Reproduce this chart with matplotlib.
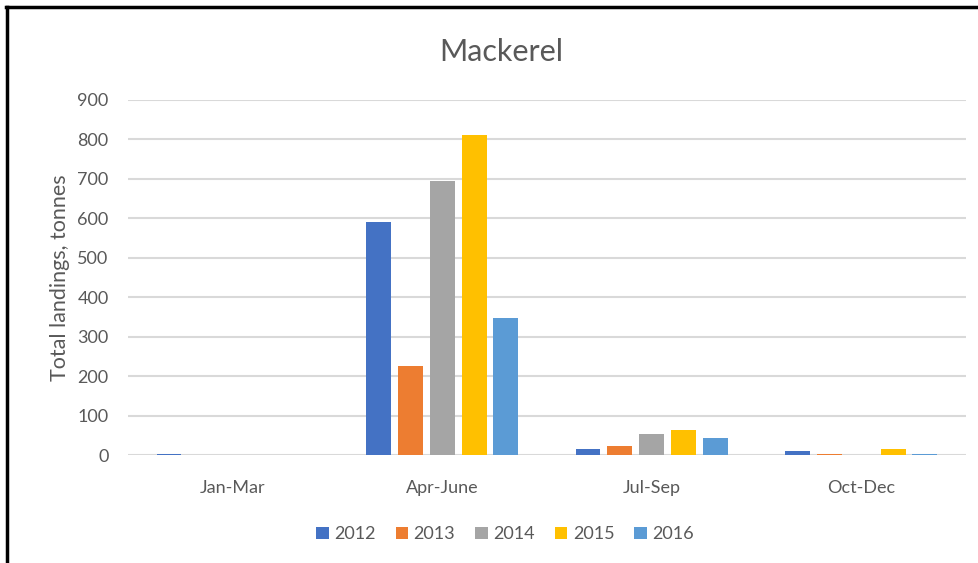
import matplotlib
matplotlib.use("Agg")
import matplotlib.pyplot as plt
from matplotlib.lines import Line2D
import numpy as np

plt.rcParams['font.family'] = ['Lato', 'DejaVu Sans']

quarters = ["Jan-Mar", "Apr-June", "Jul-Sep", "Oct-Dec"]
years = ["2012", "2013", "2014", "2015", "2016"]
landings_2012 = [2, 591, 15, 9]
landings_2013 = [0, 226, 22, 2]
landings_2014 = [0, 695, 53, 1]
landings_2015 = [0, 810, 63, 15]
landings_2016 = [0, 348, 43, 2]
series = [landings_2012, landings_2013, landings_2014, landings_2015, landings_2016]
colors = ["#4472C4", "#ED7D31", "#A5A5A5", "#FFC000", "#5B9BD5"]

fig = plt.figure(figsize=(9.79, 5.63), dpi=100)
ax = fig.add_axes([0.1307, 0.1918, 0.856, 0.6306])

x = np.arange(len(quarters))
step = 0.152
width = 0.119
for i, (vals, col, yr) in enumerate(zip(series, colors, years)):
    ax.bar(x + (i - 2) * step, vals, width, color=col, label=yr, zorder=3)

ax.set_xlim(-0.5, 3.5)
ax.set_ylim(0, 900)
ax.set_yticks(range(0, 901, 100))
ax.set_xticks(x)
ax.set_xticklabels(quarters)
ax.grid(axis="y", color="#D9D9D9", lw=1.5, zorder=0)
for s in ax.spines.values():
    s.set_visible(False)
ax.tick_params(length=0, labelsize=13, colors="#595959")
ax.tick_params(axis="x", pad=18)
ax.tick_params(axis="y", pad=14)
ax.set_ylabel("Total landings, tonnes", fontsize=15.5, color="#595959", labelpad=5)

# chart title sits over the whole chart area, not just the plot
fig.text(501 / 979, 0.908, "Mackerel", fontsize=22, color="#595959",
         ha="center", va="center")

ax.legend(loc="upper center", bbox_to_anchor=(0.45, -0.155), ncol=5, frameon=False,
          fontsize=13, labelcolor="#595959", handlelength=0.7, handleheight=0.7,
          handletextpad=0.3, columnspacing=1.1)

# black frame on top and left, as in the screenshot
fig.add_artist(Line2D([0.007, 0.007], [0.0, 0.988], color="black", lw=2.5,
                      transform=fig.transFigure))
fig.add_artist(Line2D([0.006, 1.0], [0.988, 0.988], color="black", lw=2.5,
                      transform=fig.transFigure))

fig.savefig("out.png", dpi=100)
